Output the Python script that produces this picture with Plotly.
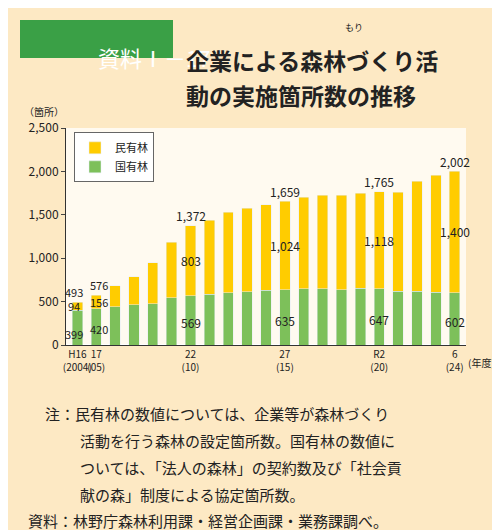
import plotly.graph_objects as go

years = list(range(2004, 2025))
total = [493, 576, 685, 788, 946, 1185, 1372, 1435, 1527, 1577, 1615, 1659,
         1704, 1723, 1723, 1750, 1765, 1762, 1888, 1958, 2002]
national = [399, 420, 442, 465, 473, 546, 569, 585, 604, 615, 631, 635,
            646, 650, 635, 654, 647, 619, 619, 608, 602]
private = [t - n for t, n in zip(total, national)]
tick_years = [2004, 2005, 2010, 2015, 2020, 2024]
tick_text = ["H16<br>(2004)", "17<br>(05)", "22<br>(10)", "27<br>(15)", "R2<br>(20)", "6<br>(24)"]
label_years = [2004, 2005, 2010, 2015, 2020, 2024]

GREEN = "#7dc05a"
YELLOW = "#ffcc00"
BG = "#fde9c4"
FONT = "Noto Sans CJK JP"

fig = go.Figure()
fig.add_trace(go.Bar(x=years, y=national, name="国有林", marker_color=GREEN, width=0.55))
fig.add_trace(go.Bar(x=years, y=private, name="民有林", marker_color=YELLOW, width=0.55))

for y in label_years:
    i = years.index(y)
    sm = y in (2004, 2005)
    fs = 11 if sm else 12
    xs = -3 if y == 2004 else (3 if y == 2005 else 0)
    fig.add_annotation(x=y, y=total[i], text=f"{total[i]:,}", showarrow=False, xshift=xs,
                       yshift=10, font=dict(size=fs, color="#222"))
    fig.add_annotation(x=y, y=national[i] + private[i] / 2, xshift=xs,
                       text=f"{private[i]:,}", showarrow=False, font=dict(size=fs, color="#222"))
    fig.add_annotation(x=y, y=national[i] * (0.32 if y == 2004 else 0.45), xshift=xs,
                       text=f"{national[i]:,}", showarrow=False, font=dict(size=fs, color="#222"))

fig.update_layout(
    width=500, height=530, barmode="stack", bargap=0.45,
    paper_bgcolor=BG, plot_bgcolor="#fffaf0",
    font=dict(family=FONT, size=12, color="#222"),
    margin=dict(l=58, r=42, t=120, b=193),
    showlegend=True,
    legend=dict(x=0.02, y=0.98, xanchor="left", yanchor="top", traceorder="reversed",
                bgcolor="white", bordercolor="#666", borderwidth=1, font=dict(size=11)),
    xaxis=dict(tickmode="array", tickvals=tick_years, ticktext=tick_text, tickangle=0,
               range=[2003.4, 2024.6], showline=True, linecolor="#333", ticks="",
               tickfont=dict(size=10)),
    yaxis=dict(range=[0, 2500], dtick=500, tickformat=",", showgrid=False,
               showline=True, linecolor="#333", ticks="outside", ticklen=4,
               tickfont=dict(size=12)),
)

fig.add_annotation(xref="paper", yref="paper", x=-0.11, y=1.03, xanchor="left", yanchor="bottom",
                   text="（箇所）", showarrow=False, font=dict(size=10))
fig.add_annotation(xref="paper", yref="paper", x=1.0, y=-0.08, xanchor="left", yanchor="middle",
                   text="(年度)", showarrow=False, font=dict(size=10))

# header (positions mapped from pixels: plot spans y 120..337, x 58..458)
def px(x):
    return (x - 58) / 400


def py(y):
    return (337 - y) / 217


fig.add_shape(type="rect", xref="paper", yref="paper", x0=px(12), x1=px(165), y0=py(50), y1=py(12),
              fillcolor="#3aa046", line_width=0, layer="above")
fig.add_annotation(xref="paper", yref="paper", x=px(88), y=py(31), text="資料Ⅰ－17", showarrow=False,
                   font=dict(size=22, color="white"))
fig.add_annotation(xref="paper", yref="paper", x=px(176), y=py(33), xanchor="left",
                   text="<b>企業による森林づくり活</b>", showarrow=False, font=dict(size=23, color="#222"))
fig.add_annotation(xref="paper", yref="paper", x=px(176), y=py(68), xanchor="left",
                   text="<b>動の実施箇所数の推移</b>", showarrow=False, font=dict(size=23, color="#222"))
fig.add_annotation(xref="paper", yref="paper", x=px(357), y=py(11), text="もり", showarrow=False,
                   font=dict(size=9, color="#222"))

notes = [
    (35, 405, "注：民有林の数値については、企業等が森林づくり"),
    (70, 432, "活動を行う森林の設定箇所数。国有林の数値に"),
    (70, 459, "ついては、「法人の森林」の契約数及び「社会貢"),
    (70, 486, "献の森」制度による協定箇所数。"),
    (18, 512, "資料：林野庁森林利用課・経営企画課・業務課調べ。"),
]
for x, y, t in notes:
    fig.add_annotation(xref="paper", yref="paper", x=px(x), y=py(y),
                       xanchor="left", yanchor="middle", text=t, showarrow=False,
                       font=dict(size=15, color="#222"))

fig.write_html("out.html")
